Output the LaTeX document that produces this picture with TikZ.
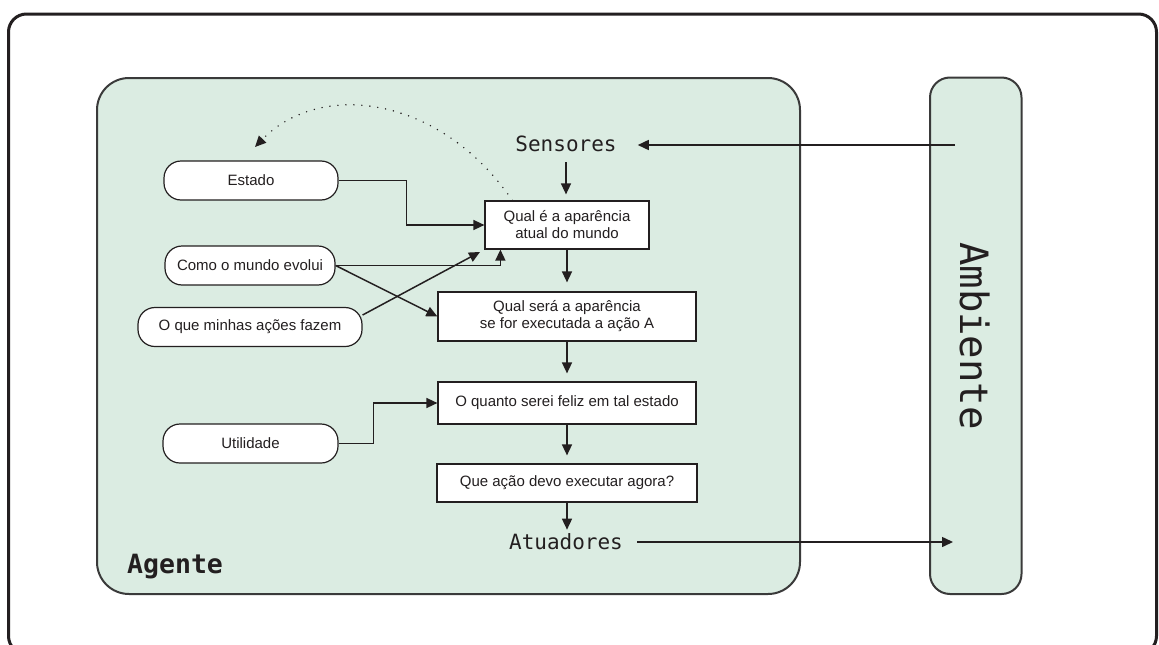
\documentclass[tikz,border=0pt]{standalone}
\usepackage{fontspec}
\setmainfont{Liberation Sans}
\newfontfamily\monofont{DejaVu Sans Mono}
\usetikzlibrary{arrows.meta,calc}
\definecolor{ink}{HTML}{231F20}
\definecolor{agentfill}{HTML}{DBECE2}
\definecolor{framegray}{HTML}{3A3A3A}
\begin{document}
\begin{tikzpicture}[x=1pt,y=-1pt,
  every node/.style={text=ink},
  tip/.style={-{Triangle[length=11pt,width=10pt]}},
  arr/.style={draw=ink, line width=1.5pt, tip},
  procbox/.style={draw=ink, fill=white, line width=1.2pt, align=center,
    font=\fontsize{15}{17}\selectfont, inner sep=0pt},
  pill/.style={draw=ink, fill=white, line width=1.2pt, rounded corners=17pt,
    font=\fontsize{15}{17}\selectfont, inner sep=0pt, minimum height=39pt},
  monolabel/.style={font=\monofont\fontsize{21}{24}\selectfont, inner sep=0pt},
]
\useasboundingbox (0,0) rectangle (1159,645);

% outer frame
\draw[draw=ink, line width=3pt, rounded corners=18pt] (8.5,14) rectangle (1156.5,654);

% agent and environment panels
\draw[draw=framegray, fill=agentfill, line width=2pt, rounded corners=32pt]
  (97,78) rectangle (800,594);
\draw[draw=framegray, fill=agentfill, line width=2pt, rounded corners=20pt]
  (930,77.5) rectangle (1021.5,594);

\node[anchor=base west, inner sep=0pt,
  font=\monofont\bfseries\fontsize{26.5}{29}\selectfont] (agentlabel) at (127,573) {Agente};
\node[rotate=-90, inner sep=0pt, font=\monofont\fontsize{39}{41}\selectfont]
  (envlabel) at (975,336) {Ambiente};

% sensors and actuators
\node[monolabel] (sens) at (566,144) {Sensores};
\node[monolabel] (act) at (566,542) {Atuadores};
\coordinate (envout) at (955,145);
\coordinate (envin) at (953,542);

% decision chain
\node[procbox, minimum width=164pt, minimum height=48pt] (q1) at (567,225)
  {Qual é a aparência\\atual do mundo};
\node[procbox, minimum width=258pt, minimum height=49pt] (q2) at (567,316.5)
  {Qual será a aparência\\se for executada a ação A};
\node[procbox, minimum width=258pt, minimum height=42pt] (q3) at (567,403)
  {O quanto serei feliz em tal estado};
\node[procbox, minimum width=260pt, minimum height=38pt] (q4) at (567,483)
  {Que ação devo executar agora?};

% knowledge inputs
\node[pill, minimum width=174pt] (est) at (251,180.5) {Estado};
\node[pill, minimum width=170pt] (como) at (250,265.5) {Como o mundo evolui};
\node[pill, minimum width=224pt] (oque) at (250,327) {O que minhas ações fazem};
\node[pill, minimum width=175pt] (util) at (250.5,443.5) {Utilidade};
\coordinate (memtip) at (255,147);

% main flow
\draw[arr, shorten >=21pt] (envout) -- (envout -| sens.east);
\draw[arr, shorten <=10pt, shorten >=6pt] (sens.south) -- (sens.south |- q1.north);
\draw[arr, shorten >=9pt] (q1.south) -- (q1.south |- q2.north);
\draw[arr, shorten >=8pt] (q2.south) -- (q2.south |- q3.north);
\draw[arr, shorten >=8pt] (q3.south) -- (q3.south |- q4.north);
\draw[arr, shorten >=4pt] (q4.south) -- (q4.south |- act.north);
\draw[arr, shorten <=14pt] (act.east) -- (act.east -| envin);

% inputs into the chain
\draw[arr] (est.east) -- ++(68,0) |- (q1.west);
\draw[arr] (como.east) -| ([xshift=16pt]q1.south west);
\draw[arr] (como.east) -- (q2.west);
\draw[arr, shorten >=5pt] ([yshift=12pt]oque.east) -- (q1.south west);
\draw[arr] (util.east) -- ++(35,0) |- (q3.west);

% state update loop
\draw[draw=ink, line width=1.6pt, line cap=round, dash pattern=on 0pt off 8pt, tip]
  ([xshift=28pt]q1.north west) .. controls (440,95) and (320,80) .. (memtip);
\end{tikzpicture}
\end{document}
